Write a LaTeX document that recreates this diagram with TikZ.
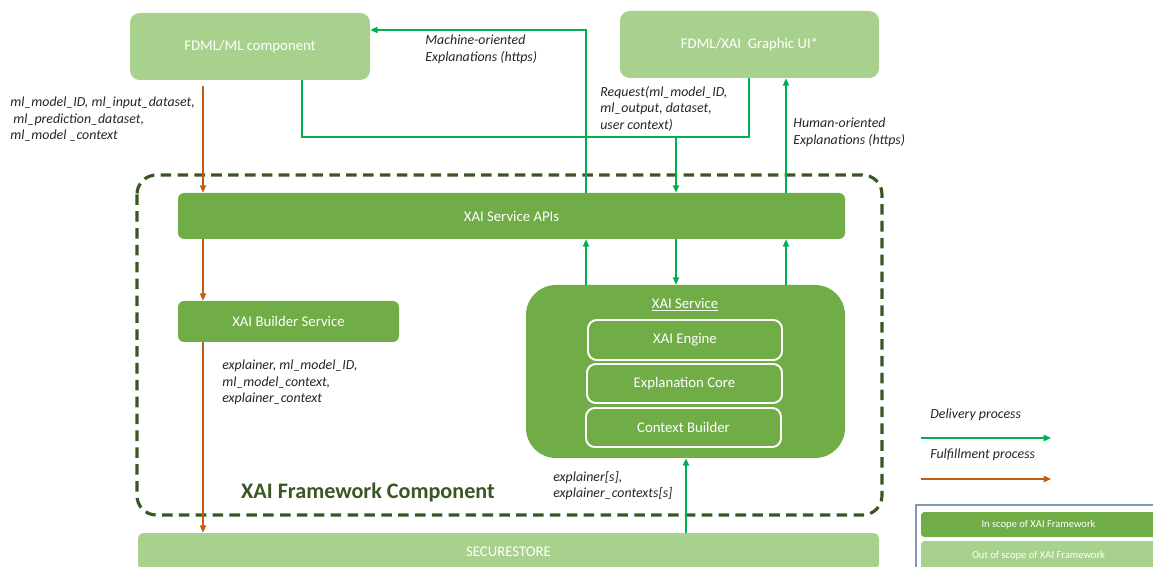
\documentclass[tikz,border=0pt]{standalone}
\usepackage{fontspec}
\setmainfont{Carlito}
\usetikzlibrary{arrows.meta,fit}
\definecolor{lightg}{HTML}{A9D18E}
\definecolor{midg}{HTML}{70AD47}
\definecolor{darkg}{HTML}{385723}
\definecolor{delg}{HTML}{00B050}
\definecolor{fulo}{HTML}{C55A11}
\definecolor{legb}{HTML}{8497B0}
\definecolor{txtg}{HTML}{262626}
\begin{document}
\begin{tikzpicture}[x=0.02cm,y=-0.02cm,
  boxfont/.style={font=\fontsize{8.4}{10}\selectfont},
  intext/.style={label={[text=white, boxfont, inner sep=0pt]center:#1}},
  legtext/.style={label={[text=white, font=\fontsize{6}{7}\selectfont, inner sep=0pt]center:#1}},
  outbox/.style={fill=lightg, draw=none, rounded corners=5.5pt, inner sep=0pt},
  inbox/.style={fill=midg, draw=none, rounded corners=3.5pt, inner sep=0pt},
  subbox/.style={draw=white, line width=1.1pt, rounded corners=5pt, inner sep=0pt},
  lbl/.style={anchor=north west, align=left, inner sep=0pt, text=txtg, font=\fontsize{7.9}{9.3}\selectfont\itshape},
  legbox/.style={draw=none, rounded corners=2pt, inner sep=0pt},
  delline/.style={draw=delg, line width=0.9pt},
  fulline/.style={draw=fulo, line width=0.9pt},
  arrowtip/.style={-{Triangle[length=4.2pt,width=3.6pt]}}
]
\useasboundingbox (0,0) rectangle (1153,567);
\clip (0,0) rectangle (1153,567);

% column / row helpers
\coordinate (c203) at (203,0);
\coordinate (c302) at (302,0);
\coordinate (c586) at (586,0);
\coordinate (c676) at (676,0);
\coordinate (c686) at (686,0);
\coordinate (c749) at (749,0);
\coordinate (c786) at (786,0);
\coordinate (r30) at (0,30);
\coordinate (r137) at (0,137);
\coordinate (orstart) at (203,86);

% outer components
\node[outbox, fit={(130,13) (370,80)}, intext={FDML/ML component}] (ml) {};
\node[outbox, fit={(620,11) (879,78)}, intext={FDML/XAI\ \ Graphic UI*}] (ui) {};
\node[outbox, rounded corners=3pt, fit={(138,533) (879,570)}, intext={SECURESTORE}] (store) {};

% framework frame
\draw[darkg, line width=1.8pt, dash pattern=on 6pt off 3.6pt, rounded corners=11pt] (137,175) rectangle (882,515);
\node[font=\fontsize{12.6}{14}\selectfont\bfseries, text=darkg, inner sep=0pt] (fwtitle) at (368,492) {XAI Framework Component};

% inner components
\node[inbox, fit={(178,193) (845,239)}, intext={XAI Service APIs}] (apis) {};
\node[inbox, fit={(178,301) (399,342)}, intext={XAI Builder Service}] (builder) {};
\node[inbox, rounded corners=17pt, fit={(526,285) (845,458)}] (svc) {};
\node[text=white, boxfont, inner sep=0pt] (svctitle) at (685,305) {\underline{XAI Service}};
\node[subbox, fit={(588,320) (782,360)}, intext={XAI Engine}] (engine) {};
\node[subbox, fit={(587,364) (782,403)}, intext={Explanation Core}] (core) {};
\node[subbox, fit={(586,408) (781,447)}, intext={Context Builder}] (ctx) {};

% delivery connectors
\draw[delline, arrowtip] (apis.north -| c586) |- (ml.east |- r30);
\draw[delline] (ml.south -| c302) |- (c749 |- r137) -- (ui.south -| c749);
\draw[delline, arrowtip] (c676 |- r137) -- (apis.north -| c676);
\draw[delline, arrowtip] (apis.north -| c786) -- (ui.south -| c786);
\draw[delline, arrowtip] (svc.north -| c586) -- (apis.south -| c586);
\draw[delline, arrowtip] (apis.south -| c676) -- (svc.north -| c676);
\draw[delline, arrowtip] (svc.north -| c786) -- (apis.south -| c786);
\draw[delline, arrowtip] (store.north -| c686) -- (svc.south -| c686);

% fulfillment connectors
\draw[fulline, arrowtip] (orstart) -- (apis.north -| c203);
\draw[fulline, arrowtip] (apis.south -| c203) -- (builder.north -| c203);
\draw[fulline, arrowtip] (builder.south -| c203) -- (store.north -| c203);

% labels
\node[lbl] (lblml) at (10,97) {ml\_model\_ID, ml\_input\_dataset,\\\ ml\_prediction\_dataset,\\ml\_model \_context};
\node[lbl] (lblmach) at (425,35) {Machine-oriented\\Explanations (https)};
\node[lbl] (lblreq) at (600,86) {Request(ml\_model\_ID,\\ml\_output, dataset,\\user context)};
\node[lbl] (lblhum) at (793,118) {Human-oriented\\Explanations (https)};
\node[lbl] (lblexp) at (222,360) {explainer, ml\_model\_ID,\\ml\_model\_context,\\explainer\_context};
\node[lbl] (lblexps) at (553,471) {explainer[s],\\explainer\_contexts[s]};

% legend
\node[lbl, anchor=west] (legdel) at (930,415) {Delivery process};
\coordinate (ld1) at (921,438);
\coordinate (ld2) at (1051,438);
\draw[delline, arrowtip] (ld1) -- (ld2);
\node[lbl, anchor=west] (legful) at (930,455) {Fulfillment process};
\coordinate (lf1) at (921,479);
\coordinate (lf2) at (1051,479);
\draw[fulline, arrowtip] (lf1) -- (lf2);
\draw[legb, line width=0.8pt] (916,505) rectangle (1170,590);
\node[legbox, fill=midg, fit={(921,512) (1156,537)}, legtext={In scope of XAI Framework}] (legin) {};
\node[legbox, fill=lightg, fit={(921,541) (1156,571)}, legtext={Out of scope of XAI Framework}] (legout) {};
\end{tikzpicture}
\end{document}
